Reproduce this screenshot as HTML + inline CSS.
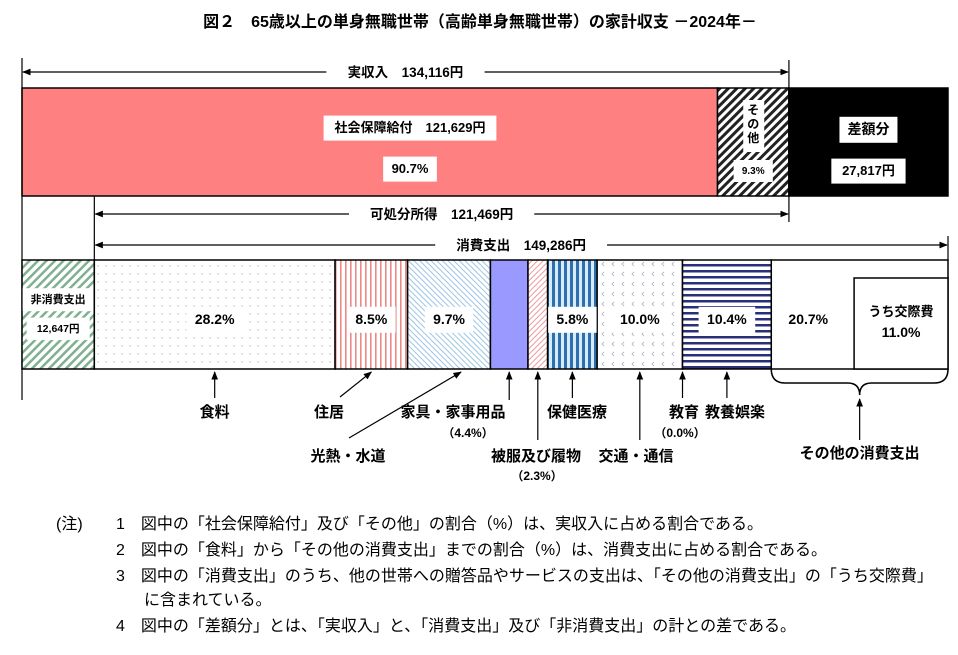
<!DOCTYPE html>
<html><head><meta charset="utf-8"><style>
body{margin:0;background:#fff}
svg{display:block;font-family:"Liberation Sans","Noto Sans CJK JP",sans-serif}
</style></head><body>
<svg width="958" height="655" viewBox="0 0 958 655">
<defs>
<marker id="ah" viewBox="0 0 10 10" refX="9" refY="5" markerWidth="7" markerHeight="7" orient="auto-start-reverse"><path d="M0,1L10,5L0,9z" fill="#000"/></marker>
<pattern id="pGreen" width="6" height="6" patternUnits="userSpaceOnUse" patternTransform="rotate(45)"><rect width="6" height="6" fill="#fff"/><rect width="2.5" height="6" fill="#7fb08f"/></pattern>
<pattern id="pDots" width="8" height="8" patternUnits="userSpaceOnUse"><rect width="8" height="8" fill="#fff"/><circle cx="2" cy="2" r="0.7" fill="#bbb"/></pattern>
<pattern id="pRed" width="5" height="5" patternUnits="userSpaceOnUse"><rect width="5" height="5" fill="#fff"/><rect width="1.6" height="5" fill="#e88"/></pattern>
<pattern id="pBlueD" width="4" height="4" patternUnits="userSpaceOnUse" patternTransform="rotate(-45)"><rect width="4" height="4" fill="#fff"/><rect width="1" height="4" fill="#9cc4e4"/></pattern>
<pattern id="pPinkD" width="4" height="4" patternUnits="userSpaceOnUse" patternTransform="rotate(45)"><rect width="4" height="4" fill="#fff"/><rect width="1" height="4" fill="#e99"/></pattern>
<pattern id="pBlueV" width="6" height="6" patternUnits="userSpaceOnUse"><rect width="6" height="6" fill="#d6ecfa"/><rect width="3" height="6" fill="#2f6fb0"/></pattern>
<pattern id="pChev" width="10" height="10" patternUnits="userSpaceOnUse"><rect width="10" height="10" fill="#fff"/><path d="M4,2L2,4L4,6" stroke="#aab" stroke-width="0.8" fill="none"/></pattern>
<pattern id="pNavyH" width="6" height="6" patternUnits="userSpaceOnUse"><rect width="6" height="6" fill="#fff"/><rect width="6" height="2.5" fill="#2a2f7a"/></pattern>
<pattern id="pBlack" width="6" height="6" patternUnits="userSpaceOnUse" patternTransform="rotate(45)"><rect width="6" height="6" fill="#fff"/><rect width="3" height="6" fill="#222"/></pattern>
</defs>

<text x="480" y="27" text-anchor="middle" font-size="16" font-weight="bold">図２　65歳以上の単身無職世帯（高齢単身無職世帯）の家計収支 －2024年－</text>

<g id="chart"></g>

<g font-size="16">
<text x="56" y="529">(注)</text>
<text x="116" y="529">1　図中の「社会保障給付」及び「その他」の割合（%）は、実収入に占める割合である。</text>
<text x="116" y="555">2　図中の「食料」から「その他の消費支出」までの割合（%）は、消費支出に占める割合である。</text>
<text x="116" y="581">3　図中の「消費支出」のうち、他の世帯への贈答品やサービスの支出は、「その他の消費支出」の「うち交際費」</text>
<text x="144" y="605">に含まれている。</text>
<text x="116" y="631">4　図中の「差額分」とは、「実収入」と、「消費支出」及び「非消費支出」の計との差である。</text>
</g>
</svg>
<script>
const incomeYen = [121629, 12487];      // social security, other
const incomePct = ["90.7%", "9.3%"];
const totalIncome = 134116;
const deficitYen = 27817;
const nonConsumptionYen = 12647;
const disposableYen = 121469;
const consumptionYen = 149286;
const catNames = ["食料","住居","光熱・水道","家具・家事用品","被服及び履物","保健医療","交通・通信","教育","教養娯楽","その他の消費支出"];
const catPct = [28.2, 8.5, 9.7, 4.4, 2.3, 5.8, 10.0, 0.0, 10.4, 20.7];
const kousaiPct = 11.0;

const NS = "http://www.w3.org/2000/svg";
const g = document.getElementById("chart");
const X0 = 22, X1 = 948;
const yenScale = (X1 - X0) / (totalIncome + deficitYen);
const xY = v => X0 + v * yenScale;
function el(tag, attrs, parent, txt){const e=document.createElementNS(NS,tag);for(const k in attrs)e.setAttribute(k,attrs[k]);if(txt!==undefined)e.textContent=txt;(parent||g).appendChild(e);return e;}
function textW(t, fs){let w=0;for(const c of t){w += c.charCodeAt(0)>0x2000 ? fs : fs*0.58;}return w;}
function label(cx, cy, t, fs, name){
  const w = textW(t, fs) + 16;
  const b = el("rect",{x:cx-w/2,y:cy-fs*0.8-6,width:w,height:fs+12,fill:"#fff"});
  
  
  const tx = el("text",{x:cx,y:cy,"text-anchor":"middle","font-size":fs,"font-weight":"bold"},g,t);
  
  
}
function arrow(x1,y1,x2,y2,name){
  const l = el("line",{x1,y1,x2,y2,stroke:"#000","stroke-width":1.2,"marker-end":"url(#ah)"});
  
  
  return l;
}

// top bar
const TY = 88, TH = 108;
const xSoc = xY(incomeYen[0]), xInc = xY(totalIncome), xEnd = xY(totalIncome + deficitYen);
let r = el("rect",{x:X0,y:TY,width:xSoc-X0,height:TH,fill:"#ff8080",stroke:"#000","stroke-width":1.5});


r = el("rect",{x:xSoc,y:TY,width:xInc-xSoc,height:TH,fill:"url(#pBlack)",stroke:"#000","stroke-width":1.5});


r = el("rect",{x:xInc,y:TY,width:xEnd-xInc,height:TH,fill:"#000",stroke:"#000","stroke-width":1.5});


label(410,132,"社会保障給付　"+incomeYen[0].toLocaleString("en-US")+"円",13,"social-security-label");
label(410,173,incomePct[0],13,"social-security-pct");
// その他 vertical
r = el("rect",{x:(xSoc+xInc)/2-10,y:100,width:21,height:52,fill:"#fff"});


["そ","の","他"].forEach((c,i)=>{const t=el("text",{x:(xSoc+xInc)/2,y:114+i*14,"text-anchor":"middle","font-size":12,"font-weight":"bold"},g,c);});
label((xSoc+xInc)/2,174,incomePct[1],10,"other-income-pct");
label((xInc+xEnd)/2,134,"差額分",14,"deficit-label");
label((xInc+xEnd)/2,175,deficitYen.toLocaleString("en-US")+"円",13,"deficit-value");

// dimension lines
let v = el("line",{x1:X0,y1:58,x2:X0,y2:400,stroke:"#000","stroke-width":1.2});

v = el("line",{x1:xInc,y1:60,x2:xInc,y2:222,stroke:"#000","stroke-width":1.2});

const xNC = xY(nonConsumptionYen), xCE = xY(nonConsumptionYen + consumptionYen);
v = el("line",{x1:xNC,y1:196,x2:xNC,y2:260,stroke:"#000","stroke-width":1.2});

v = el("line",{x1:xCE,y1:236,x2:xCE,y2:260,stroke:"#000","stroke-width":1.2});

function dim(xa,xb,y,t,name){
  const cx=(xa+xb)/2, half=textW(t,13.5)/2+18;
  arrow(cx-half,y,xa+1,y,name+'-arrow-left');
  arrow(cx+half,y,xb-1,y,name+'-arrow-right');
  const tx=el("text",{x:cx,y:y+5,"text-anchor":"middle","font-size":13.5,"font-weight":"bold"},g,t);
  
}
dim(X0,xInc,72,"実収入　"+totalIncome.toLocaleString("en-US")+"円","income");
dim(xNC,xInc,214,"可処分所得　"+disposableYen.toLocaleString("en-US")+"円","disposable-income");
dim(xNC,xCE,245,"消費支出　"+consumptionYen.toLocaleString("en-US")+"円","consumption");

// bottom bar
const BY = 260, BH = 109;
r = el("rect",{x:X0,y:BY,width:xNC-X0,height:BH,fill:"url(#pGreen)",stroke:"#000","stroke-width":1.5});

label((X0+xNC)/2,303,"非消費支出",11,"non-consumption-label");
label((X0+xNC)/2,332,nonConsumptionYen.toLocaleString("en-US")+"円",10.5,"non-consumption-value");

const fills = ["url(#pDots)","url(#pRed)","url(#pBlueD)","#9999ff","url(#pPinkD)","url(#pBlueV)","url(#pChev)","#fff","url(#pNavyH)","#fff"];
const segNames = ["food","housing","utilities","furniture","clothing","health","transport","education","culture","other"];
const cw = xCE - xNC;
const xP = p => xNC + p/100*cw;
let acc = 0; const segs = [];
catPct.forEach((p,i)=>{
  const xa = xP(acc), xb = xP(acc+p); acc += p;
  segs.push([xa,xb]);
  const s = el("rect",{x:xa,y:BY,width:xb-xa,height:BH,fill:fills[i],stroke:"#000","stroke-width":1.5});
  
  
});
const showPct = [0,1,2,5,6,8,9];
showPct.forEach(i=>{
  let cx=(segs[i][0]+segs[i][1])/2;
  if(i===9) cx = segs[i][0]+37;
  label(cx,324,catPct[i].toFixed(1)+"%",14,"pct-"+segNames[i]);
});
// うち交際費 box
const xk = segs[9][1] - (segs[9][1]-segs[9][0])*kousaiPct/catPct[9];
r = el("rect",{x:xk,y:278,width:segs[9][1]-xk,height:BY+BH-278,fill:"#fff",stroke:"#000","stroke-width":1.5});

let t = el("text",{x:(xk+segs[9][1])/2,y:316,"text-anchor":"middle","font-size":13,"font-weight":"bold"},g,"うち交際費");

t = el("text",{x:(xk+segs[9][1])/2,y:337,"text-anchor":"middle","font-size":14,"font-weight":"bold"},g,kousaiPct.toFixed(1)+"%");


// category labels & arrows
const mid = i => (segs[i][0]+segs[i][1])/2;
const AB = BY+BH+3;
function txt(x,y,s,name,fs){const e=el("text",{x,y,"text-anchor":"middle","font-size":fs||15,"font-weight":"bold"},g,s);}
arrow(mid(0),398,mid(0),AB,'arrow-food'); txt(mid(0),417,catNames[0],'label-food');
arrow(340,397,mid(1),AB,'arrow-housing'); txt(329,417,catNames[1],'label-housing');
arrow(349,438,mid(2)+12,AB,'arrow-utilities'); txt(348,461,catNames[2],'label-utilities');
arrow(mid(3),400,mid(3),AB,'arrow-furniture'); txt(453,417,catNames[3],'label-furniture'); txt(468,437,"（"+catPct[3].toFixed(1)+"%）",'label-furniture-pct',12);
arrow(mid(4),440,mid(4),AB,'arrow-clothing'); txt(536,461,catNames[4],'label-clothing'); txt(537,480,"（"+catPct[4].toFixed(1)+"%）",'label-clothing-pct',12);
arrow(mid(5),398,mid(5),AB,'arrow-health'); txt(577,417,catNames[5],'label-health');
arrow(mid(6),440,mid(6),AB,'arrow-transport'); txt(636,461,catNames[6],'label-transport');
arrow(mid(7),398,mid(7),AB,'arrow-education'); txt(684,417,catNames[7],'label-education'); txt(680,437,"（"+catPct[7].toFixed(1)+"%）",'label-education-pct',12);
arrow(mid(8),398,mid(8),AB,'arrow-culture'); txt(735,417,catNames[8],'label-culture');
// brace
const bx0=segs[9][0], bx1=segs[9][1], bm=(bx0+bx1)/2;
const br = el("path",{d:`M${bx0},${BY+BH} Q${bx0},${BY+BH+14} ${bx0+14},${BY+BH+14} L${bm-12},${BY+BH+14} Q${bm},${BY+BH+14} ${bm},${BY+BH+26} Q${bm},${BY+BH+14} ${bm+12},${BY+BH+14} L${bx1-14},${BY+BH+14} Q${bx1},${BY+BH+14} ${bx1},${BY+BH}`,fill:"none",stroke:"#000","stroke-width":1.5});

arrow(bm,440,bm,BY+BH+30,'arrow-other'); txt(bm,458,catNames[9],'label-other');
</script>
</body></html>
